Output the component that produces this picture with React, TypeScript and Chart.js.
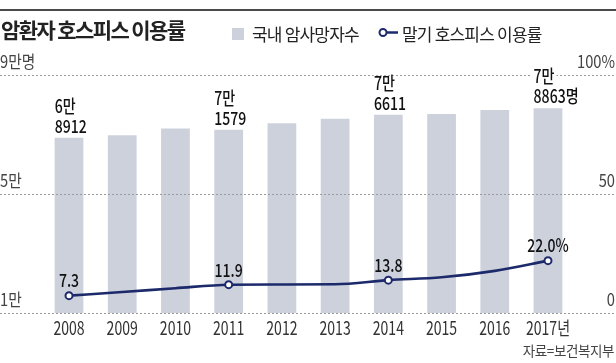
import React, { useEffect, useRef } from "react";
import { Chart, registerables } from "chart.js";

Chart.register(...registerables);

// ---- data ----
const years = ["2008", "2009", "2010", "2011", "2012", "2013", "2014", "2015", "2016", "2017년"];
const cancerDeaths = [68912, 69780, 72046, 71579, 73759, 75334, 76611, 76855, 78194, 78863];
const hospiceRate = [7.3, 8.8, 10.4, 11.9, 12.0, 12.1, 13.8, 15.0, 17.7, 22.0];
const deathLabelTop = ["6만", "", "", "7만", "", "", "7만", "", "", "7만"];
const deathLabelBottom = ["8912", "", "", "1579", "", "", "6611", "", "", "8863명"];
const rateLabels = ["7.3", "", "", "11.9", "", "", "13.8", "", "", "22.0%"];
const leftTickValues = [90000, 50000, 10000];
const leftTickLabels = ["9만명", "5만", "1만"];
const rightTickValues = [100, 50, 0];
const rightTickLabels = ["100%", "50", "0"];

const FONT = '"Noto Sans CJK KR", "Noto Sans", sans-serif';
const NAVY = "#1c2a6b";
const BAR = "#cdd1dc";

function drawText(
  ctx: CanvasRenderingContext2D,
  text: string,
  x: number,
  y: number,
  align: "left" | "right" | "center",
  font: string,
  color: string,
  sx: number,
  bg?: string
) {
  ctx.save();
  ctx.font = font;
  ctx.textBaseline = "middle";
  ctx.textAlign = "left";
  const w = ctx.measureText(text).width * sx;
  const left = align === "left" ? x : align === "right" ? x - w : x - w / 2;
  if (bg) {
    ctx.fillStyle = bg;
    ctx.fillRect(left - 2, y - 7, w + 4, 14);
  }
  ctx.fillStyle = color;
  ctx.translate(left, y);
  ctx.scale(sx, 1);
  ctx.fillText(text, 0, 0);
  ctx.restore();
}

const overlayPlugin = {
  id: "overlay",
  afterDatasetsDraw(chart: any) {
    const ctx: CanvasRenderingContext2D = chart.ctx;
    const y = chart.scales.y;
    const y1 = chart.scales.y1;
    const x = chart.scales.x;
    // dotted grid lines across full width
    ctx.save();
    ctx.strokeStyle = "#9a9a9a";
    ctx.lineWidth = 1;
    ctx.setLineDash([2, 2]);
    leftTickValues.forEach((v) => {
      const py = Math.round(y.getPixelForValue(v)) + 0.5;
      ctx.beginPath();
      ctx.moveTo(0, py);
      ctx.lineTo(chart.width, py);
      ctx.stroke();
    });
    ctx.restore();

    const axisFont = `400 17.5px ${FONT}`;
    leftTickValues.forEach((v, i) => {
      const py = y.getPixelForValue(v);
      drawText(ctx, leftTickLabels[i], 0, py - 14, "left", axisFont, "#444", 0.84);
    });
    rightTickValues.forEach((v, i) => {
      const py = y1.getPixelForValue(v);
      drawText(ctx, rightTickLabels[i], 615, py - 14, "right", axisFont, "#444", 0.84);
    });

    // x labels
    const xFont = `400 18.5px ${FONT}`;
    years.forEach((lab, i) => {
      const px = x.getPixelForValue(i);
      drawText(ctx, lab, px, chart.chartArea.bottom + 15, "center", xFont, "#333", 0.76);
    });

    // bar labels
    const labFont = `500 18px ${FONT}`;
    const barMeta = chart.getDatasetMeta(0);
    barMeta.data.forEach((bar: any, i: number) => {
      if (!deathLabelTop[i]) return;
      const left = bar.x - bar.width / 2;
      drawText(ctx, deathLabelTop[i], left, bar.y - 32, "left", labFont, "#111", 0.78, "#fff");
      drawText(ctx, deathLabelBottom[i], left, bar.y - 11.5, "left", labFont, "#111", 0.78, "#fff");
    });

    // line labels
    const lineMeta = chart.getDatasetMeta(1);
    lineMeta.data.forEach((pt: any, i: number) => {
      if (!rateLabels[i]) return;
      drawText(ctx, rateLabels[i], pt.x, pt.y - 15, "center", labFont, "#111", 0.78);
    });
  },
};

export default function App() {
  const ref = useRef<HTMLCanvasElement | null>(null);

  useEffect(() => {
    if (!ref.current) return;
    const chart = new Chart(ref.current, {
      data: {
        labels: years,
        datasets: [
          {
            type: "bar",
            data: cancerDeaths,
            yAxisID: "y",
            backgroundColor: BAR,
            barPercentage: 0.54,
            categoryPercentage: 1,
            order: 2,
          } as any,
          {
            type: "line",
            data: hospiceRate,
            yAxisID: "y1",
            borderColor: NAVY,
            borderWidth: 2.6,
            pointRadius: rateLabels.map((l) => (l ? 3.5 : 0)),
            pointBackgroundColor: "#fff",
            pointBorderColor: NAVY,
            pointBorderWidth: 2,
            cubicInterpolationMode: "monotone",
            order: 1,
          } as any,
        ],
      },
      options: {
        animation: false,
        responsive: false,
        devicePixelRatio: 1,
        layout: { padding: { left: 42.4, right: 41.4, top: 75, bottom: 50 } },
        scales: {
          x: { type: "category", display: false, offset: true },
          y: { type: "linear", display: false, min: 10000, max: 90000 },
          y1: { type: "linear", display: false, min: 0, max: 100, position: "right" },
        },
        plugins: { legend: { display: false }, tooltip: { enabled: false } },
      },
      plugins: [overlayPlugin],
    } as any);
    return () => chart.destroy();
  }, []);

  return (
    <div
      style={{
        position: "fixed",
        left: 0,
        top: 0,
        width: 616,
        height: 363,
        background: "#fff",
        overflow: "hidden",
        fontFamily: FONT,
      }}
    >
      <div style={{ position: "absolute", left: 0, top: 9, width: 616, height: 2, background: "#4a4a4a" }} />
      <canvas ref={ref} width={616} height={363} style={{ position: "absolute", left: 0, top: 0 }} />
      <div
        style={{
          position: "absolute",
          left: 1,
          top: 19,
          fontSize: 21,
          lineHeight: "21px",
          fontWeight: 700,
          letterSpacing: "-1.6px",
          color: "#222",
          whiteSpace: "nowrap",
        }}
      >
        암환자 호스피스 이용률
      </div>
      <div style={{ position: "absolute", left: 232, top: 28, width: 12, height: 12, background: BAR }} />
      <div
        style={{
          position: "absolute",
          left: 252,
          top: 24.5,
          fontSize: 17,
          lineHeight: "17px",
          letterSpacing: "-0.8px",
          color: "#222",
          whiteSpace: "nowrap",
        }}
      >
        국내 암사망자수
      </div>
      <svg style={{ position: "absolute", left: 376, top: 26 }} width={24} height={14}>
        <line x1={10} y1={6.5} x2={22} y2={6.5} stroke={NAVY} strokeWidth={2.5} />
        <circle cx={7} cy={6.5} r={3.5} fill="#fff" stroke={NAVY} strokeWidth={2} />
      </svg>
      <div
        style={{
          position: "absolute",
          left: 402,
          top: 24.5,
          fontSize: 17,
          lineHeight: "17px",
          letterSpacing: "-0.8px",
          color: "#222",
          whiteSpace: "nowrap",
        }}
      >
        말기 호스피스 이용률
      </div>
      <div
        style={{
          position: "absolute",
          right: 2,
          top: 344,
          fontSize: 13.5,
          lineHeight: "13.5px",
          letterSpacing: "-0.4px",
          color: "#444",
          whiteSpace: "nowrap",
        }}
      >
        자료=보건복지부
      </div>
    </div>
  );
}
